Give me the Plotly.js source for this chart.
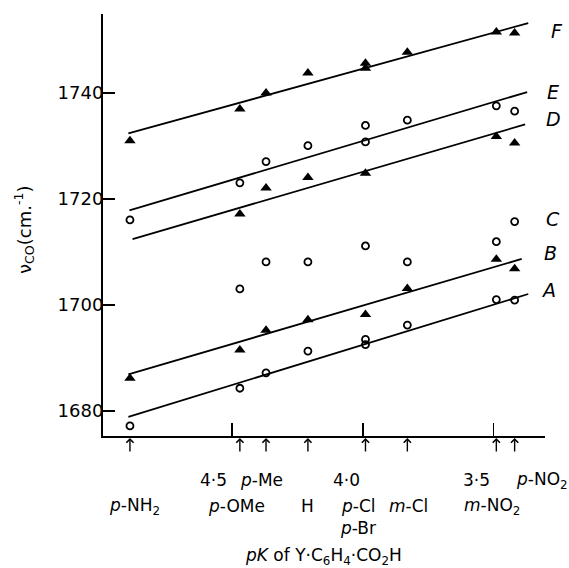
<!DOCTYPE html>
<html>
<head>
<meta charset="utf-8">
<script src="https://cdn.plot.ly/plotly-3.0.1.min.js"></script>
<style>html,body{margin:0;padding:0;background:#fff;}#chart{width:569px;height:568px;}</style>
</head>
<body>
<div id="chart"></div>
<script>
// ---- data ----
const substituents = ["p-NH2","p-OMe","p-Me","H","p-Cl","p-Br","m-Cl","m-NO2","p-NO2"];
const pK           = [4.89, 4.47, 4.37, 4.21, 3.99, 3.99, 3.83, 3.49, 3.42];

const seriesF = [1730.9, 1736.9, 1739.9, 1743.7, 1745.5, 1744.6, 1747.6, 1751.4, 1751.2];
const seriesE = [1716.0, 1723.0, 1727.0, 1730.0, 1733.8, 1730.7, 1734.8, 1737.5, 1736.5];
const seriesD = [null,   1717.1, 1722.0, 1724.0, 1724.8, null,   null,   1731.7, 1730.5];
const seriesC = [null,   1703.0, 1708.1, 1708.1, 1711.1, null,   1708.1, 1711.9, 1715.7];
const seriesB = [1686.2, 1691.5, 1695.2, 1697.2, 1698.2, null,   1703.1, 1708.6, 1706.8];
const seriesA = [1677.2, 1684.3, 1687.2, 1691.3, 1693.5, 1692.5, 1696.2, 1701.0, 1700.9];

// fitted straight lines (end points)
const lineF_x = [4.896, 3.368], lineF_y = [1732.3, 1753.1];
const lineE_x = [4.892, 3.372], lineE_y = [1717.8, 1740.1];
const lineD_x = [4.880, 3.380], lineD_y = [1712.4, 1734.0];
const lineB_x = [4.896, 3.393], lineB_y = [1686.9, 1708.65];
const lineA_x = [4.896, 3.368], lineA_y = [1678.9, 1702.05];

const xTickVals = [4.5, 4.0, 3.5];
const xTickText = ["4·5", "4·0", "3·5"];
const yTickVals = [1680, 1700, 1720, 1740];
const seriesNames = ["F","E","D","C","B","A"];

// ---- drawing ----
const FONT = "DejaVu Sans, Liberation Sans, sans-serif";
const L = 103, R = 545, T = 14, B = 436;
const P = px => (px - L) / (R - L);
const Q = py => (B - py) / (B - T);

const tri = {symbol: "triangle-up", size: 10, color: "#000"};
const circ = {symbol: "circle-open", size: 7, color: "#000", line: {width: 1.8, color: "#000"}};

function pts(y, m) { return {x: pK, y: y, mode: "markers", type: "scatter", marker: m, cliponaxis: false, hoverinfo: "skip"}; }
function ln(x, y) { return {x: x, y: y, mode: "lines", type: "scatter", line: {color: "#000", width: 1.8}, cliponaxis: false, hoverinfo: "skip"}; }

const data = [
  ln(lineF_x, lineF_y), ln(lineE_x, lineE_y), ln(lineD_x, lineD_y), ln(lineB_x, lineB_y), ln(lineA_x, lineA_y),
  pts(seriesF, tri), pts(seriesE, circ), pts(seriesD, tri), pts(seriesC, circ), pts(seriesB, tri), pts(seriesA, circ)
];

const annotations = [];
// arrows under the axis at each substituent's pK
const uniquePK = [...new Set(pK)];
uniquePK.forEach(v => annotations.push({
  x: v, xref: "x", y: Q(438), yref: "paper", text: "", showarrow: true,
  ax: 0, ay: 15, arrowhead: 4, arrowsize: 1, arrowwidth: 1.4, arrowcolor: "#000"
}));

function sub(s) { // p-NO2 -> <i>p</i>-NO<sub>2</sub>
  let t = s.replace(/(\d)$/, "<sub>$1</sub>");
  return t.replace(/^([pm])-/, "<i>$1</i>-");
}
// numeric tick labels of the pK axis
const numCenters = [213, 346, 476];
xTickText.forEach((t, i) => annotations.push({x: P(numCenters[i]), y: Q(480), xref: "paper", yref: "paper",
  text: t, showarrow: false, xanchor: "center", yanchor: "middle", font: {family: FONT, size: 17, color: "#000"}}));
// substituent labels
const labelPos = {"p-NH2": [134, 506], "p-OMe": [236, 506], "p-Me": [261, 480], "H": [307, 506],
  "p-Cl": [358, 506], "p-Br": [358, 528], "m-Cl": [408, 506], "m-NO2": [492, 506], "p-NO2": [542, 480]};
substituents.forEach(s => {
  const p = labelPos[s];
  annotations.push({x: P(p[0]), y: Q(p[1]), xref: "paper", yref: "paper", text: sub(s), showarrow: false,
    xanchor: "center", yanchor: "middle", font: {family: FONT, size: 17, color: "#000"}});
});
// x-axis title
annotations.push({x: P(323), y: Q(556), xref: "paper", yref: "paper",
  text: "<i>pK</i> of Y·C<sub>6</sub>H<sub>4</sub>·CO<sub>2</sub>H", showarrow: false,
  xanchor: "center", yanchor: "middle", font: {family: FONT, size: 17, color: "#000"}});
// y-axis title
annotations.push({x: P(24), y: Q(230), xref: "paper", yref: "paper", textangle: -90,
  text: "ν<sub>CO</sub>(cm.<sup>-1</sup>)", showarrow: false,
  xanchor: "center", yanchor: "middle", font: {family: FONT, size: 18, color: "#000"}});
// series letters
const letterPos = [[557, 31], [553, 92], [553, 119], [553, 219], [550, 253], [548, 290]];
seriesNames.forEach((n, i) => annotations.push({x: P(letterPos[i][0]), y: Q(letterPos[i][1]), xref: "paper", yref: "paper",
  text: "<i>" + n + "</i>", showarrow: false, xanchor: "center", yanchor: "middle",
  font: {family: FONT, size: 19, color: "#000"}}));

const layout = {
  width: 569, height: 568,
  margin: {l: L, r: 569 - R, t: T, b: 568 - B, pad: 0},
  paper_bgcolor: "#fff", plot_bgcolor: "#fff",
  showlegend: false,
  font: {family: FONT, color: "#000"},
  xaxis: {range: [4.993, 3.304], showline: true, linewidth: 2, linecolor: "#000",
    ticks: "inside", tickvals: xTickVals, ticklen: 13, tickwidth: 1.5, tickcolor: "#000",
    showticklabels: false, showgrid: false, zeroline: false},
  yaxis: {range: [1675.3, 1754.8], showline: true, linewidth: 2, linecolor: "#000",
    ticks: "inside", tickvals: yTickVals, ticklen: 12, tickwidth: 2, tickcolor: "#000",
    tickfont: {family: FONT, size: 18, color: "#000"}, ticklabelstandoff: -6,
    showgrid: false, zeroline: false},
  annotations: annotations
};

Plotly.newPlot("chart", data, layout, {staticPlot: true, displayModeBar: false});
</script>
</body>
</html>
